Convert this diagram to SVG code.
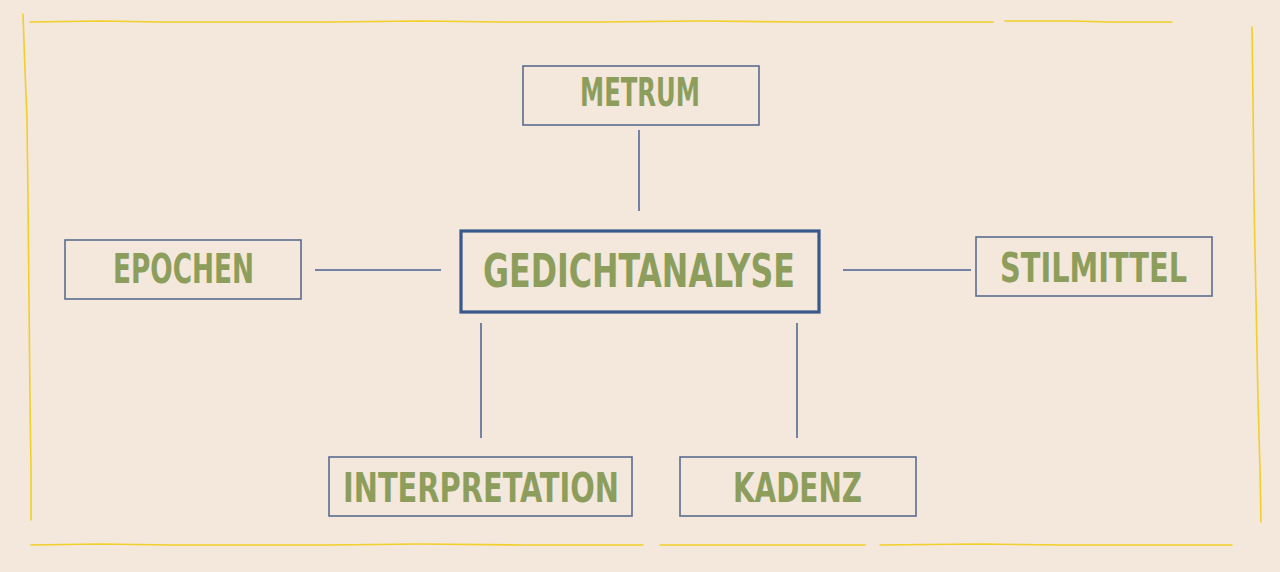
<svg xmlns="http://www.w3.org/2000/svg" width="1280" height="572" viewBox="0 0 1280 572">
  <style>
    .frame { fill: none; stroke: #f2cf2a; stroke-width: 1.6; stroke-linecap: round; stroke-linejoin: round; }
    .box { fill: none; stroke: #5b6d8f; stroke-width: 1.6; }
    .main { fill: none; stroke: #37598c; stroke-width: 3.2; }
    .conn { stroke: #47618f; stroke-width: 1.5; fill: none; }
    .lbl { font-family: "DejaVu Sans Condensed", "DejaVu Sans", sans-serif; font-weight: bold; fill: #8d9e5c; text-anchor: start; }
  </style>
  <rect width="1280" height="572" fill="#f4e7db"/>
  <g id="frame">
    <polyline class="frame" points="30,22 100,21 160,22 240,22 330,22 420,21 500,22 600,22 700,21 800,22 900,22 993,22"/>
    <polyline class="frame" points="1005,21 1070,21 1110,22 1150,22 1172,22"/>
    <polyline class="frame" points="23,14 25,70 27,120 28,200 29,300 30,400 31,470 31,520"/>
    <polyline class="frame" points="1252,27 1253,100 1254,200 1256,300 1258,400 1260,470 1261,522"/>
    <polyline class="frame" points="31,545 100,544 170,545 240,545 330,545 420,544 520,545 643,545"/>
    <polyline class="frame" points="660,545 760,545 865,545"/>
    <polyline class="frame" points="880,545 980,544 1060,545 1150,545 1232,545"/>
  </g>
  <g id="connectors">
    <line class="conn" x1="639" y1="130" x2="639" y2="211"/>
    <line class="conn" x1="315" y1="270" x2="441" y2="270"/>
    <line class="conn" x1="843" y1="270" x2="971" y2="270"/>
    <line class="conn" x1="481" y1="323" x2="481" y2="438"/>
    <line class="conn" x1="797" y1="323" x2="797" y2="438"/>
  </g>
  <g id="gedichtanalyse">
    <rect class="main" x="461" y="231" width="358" height="81"/>
    <text class="lbl" x="483" y="287" font-size="46" textLength="312" lengthAdjust="spacingAndGlyphs">GEDICHTANALYSE</text>
  </g>
  <g id="metrum">
    <rect class="box" x="523" y="66" width="236" height="59"/>
    <text class="lbl" x="580" y="106" font-size="39" textLength="120" lengthAdjust="spacingAndGlyphs">METRUM</text>
  </g>
  <g id="epochen">
    <rect class="box" x="65" y="240" width="236" height="59"/>
    <text class="lbl" x="113" y="283" font-size="41" textLength="141" lengthAdjust="spacingAndGlyphs">EPOCHEN</text>
  </g>
  <g id="stilmittel">
    <rect class="box" x="976" y="237" width="236" height="59"/>
    <text class="lbl" x="1000" y="282" font-size="41" textLength="187" lengthAdjust="spacingAndGlyphs">STILMITTEL</text>
  </g>
  <g id="interpretation">
    <rect class="box" x="329" y="457" width="303" height="59"/>
    <text class="lbl" x="343" y="502" font-size="41" textLength="276" lengthAdjust="spacingAndGlyphs">INTERPRETATION</text>
  </g>
  <g id="kadenz">
    <rect class="box" x="680" y="457" width="236" height="59"/>
    <text class="lbl" x="733" y="502" font-size="41" textLength="129" lengthAdjust="spacingAndGlyphs">KADENZ</text>
  </g>
</svg>
